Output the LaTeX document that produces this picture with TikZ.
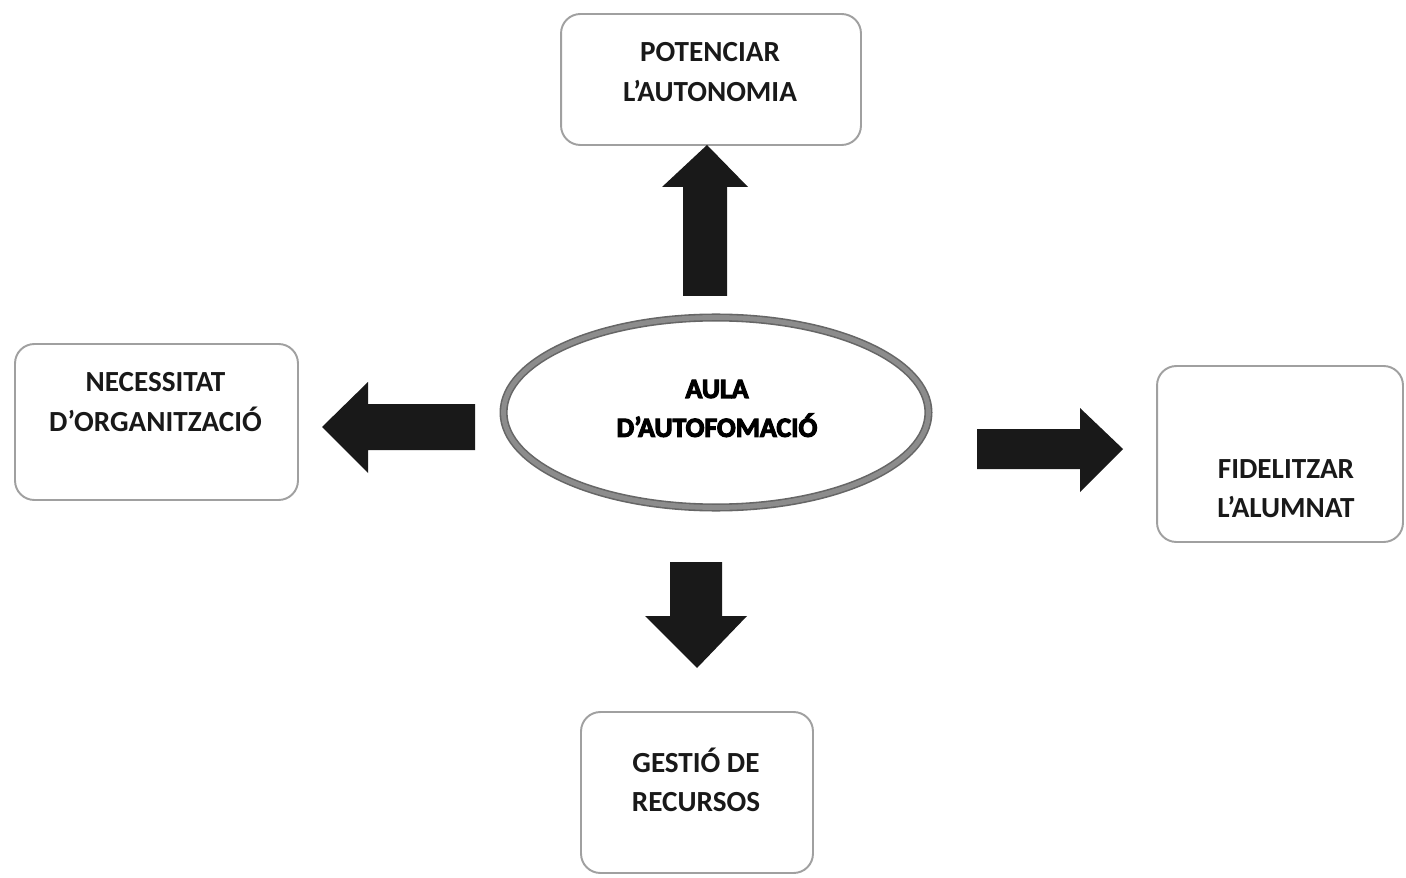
\documentclass[tikz,border=0pt]{standalone}
\usepackage{fontspec}
\setmainfont{Carlito}
\newfontfamily\heavyfont[BoldFeatures={FakeBold=4}]{Carlito}
\usetikzlibrary{shapes.geometric}
\definecolor{boxgray}{HTML}{A0A0A0}
\definecolor{ringdark}{HTML}{666666}
\definecolor{ringmid}{HTML}{8C8C8C}
\begin{document}
\begin{tikzpicture}[x=0.02cm,y=-0.02cm,
  box/.style={draw=boxgray, line width=1.1pt, rounded corners=11pt, rectangle, inner sep=0pt},
  lbl/.style={anchor=base, inner sep=0pt, font=\bfseries\fontsize{16.6}{22.7}\selectfont, text=black!90},
  heavylbl/.style={anchor=base, inner sep=0pt, font=\heavyfont\bfseries\fontsize{15.8}{22.1}\selectfont, text=black},
  ring/.style={ellipse, minimum width=8.5cm, minimum height=3.8cm, inner sep=0pt},
  arr/.style={fill=black!90}]
\useasboundingbox (0,0) rectangle (1406,878);
\fill[white] (0,0) rectangle (1406,878);

% boxes
\node[box, minimum width=6cm, minimum height=2.62cm] (top) at (711,79.5) {};
\node[box, minimum width=5.66cm, minimum height=3.12cm] (left) at (156.5,422) {};
\node[box, minimum width=4.92cm, minimum height=3.52cm] (right) at (1280,454) {};
\node[box, minimum width=4.64cm, minimum height=3.22cm] (bottom) at (697,792.5) {};

% central ellipse
\node[ring, draw=ringdark, line width=4.6pt] (center) at (716,412.5) {};
\node[ring, draw=ringmid, line width=2.8pt] (centerhl) at (716,412.5) {};

% labels
\node[lbl] (toptxt) at (710,62) {\begin{tabular}[t]{@{}c@{}}POTENCIAR\\L’AUTONOMIA\end{tabular}};
\node[lbl] (lefttxt) at (155.5,392) {\begin{tabular}[t]{@{}c@{}}NECESSITAT\\D’ORGANITZACIÓ\end{tabular}};
\node[lbl] (righttxt) at (1286,478) {\begin{tabular}[t]{@{}c@{}}FIDELITZAR\\L’ALUMNAT\end{tabular}};
\node[lbl] (bottomtxt) at (696,772) {\begin{tabular}[t]{@{}c@{}}GESTIÓ DE\\RECURSOS\end{tabular}};
\node[heavylbl] (centertxt) at (717,398) {\begin{tabular}[t]{@{}c@{}}AULA\\D’AUTOFOMACIÓ\end{tabular}};

% block arrows
\fill[arr] (683,296) -- (683,187) -- (662,187) -- (707,145) -- (748,187) -- (727,187) -- (727,296) -- cycle;
\fill[arr] (977,429) -- (1080,429) -- (1080,408) -- (1123,449) -- (1080,492) -- (1080,469) -- (977,469) -- cycle;
\fill[arr] (475,404) -- (368,404) -- (368,382) -- (322,427) -- (368,473) -- (368,450) -- (475,450) -- cycle;
\fill[arr] (670,562) -- (722,562) -- (722,616) -- (747,616) -- (697,668) -- (645,616) -- (670,616) -- cycle;
\end{tikzpicture}
\end{document}
